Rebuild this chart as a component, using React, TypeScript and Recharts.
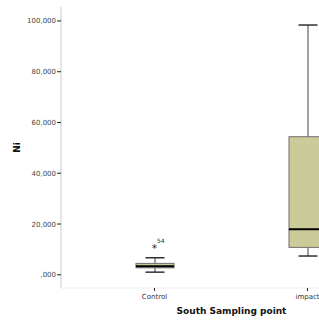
import React from 'react'
import { ComposedChart, Bar, Scatter, XAxis, YAxis, Label } from 'recharts'

const SITES = ['Control', 'impact']
const WHISKER_LOW = [1.05, 7.4]
const Q1 = [2.75, 10.8]
const MEDIAN = [3.4, 17.9]
const Q3 = [4.5, 54.4]
const WHISKER_HIGH = [6.7, 98.4]
const OUTLIERS = [11.3, null]
const OUTLIER_IDS = ['54', '']
const Y_TICKS = [0, 20, 40, 60, 80, 100]

const data = SITES.map((site, i) => ({
  site,
  base: WHISKER_LOW[i],
  lowWhisker: Q1[i] - WHISKER_LOW[i],
  boxLow: MEDIAN[i] - Q1[i],
  boxHigh: Q3[i] - MEDIAN[i],
  highWhisker: WHISKER_HIGH[i] - Q3[i],
  outlier: OUTLIERS[i],
  outlierId: OUTLIER_IDS[i],
}))

const FONT = '"DejaVu Sans", Verdana, sans-serif'
const BOX_FILL = '#cbcb99'
const BOX_EDGE = '#6e6e6e'

function LowWhisker(p: any) {
  const cx = p.x + p.width / 2
  const bottom = p.y + p.height
  return (
    <g>
      <line x1={cx} x2={cx} y1={p.y} y2={bottom} stroke={BOX_EDGE} strokeWidth={1.3} />
      <line x1={cx - p.width / 4} x2={cx + p.width / 4} y1={bottom} y2={bottom} stroke="#111" strokeWidth={1.3} />
    </g>
  )
}

function HighWhisker(p: any) {
  const cx = p.x + p.width / 2
  return (
    <g>
      <line x1={cx} x2={cx} y1={p.y} y2={p.y + p.height} stroke={BOX_EDGE} strokeWidth={1.3} />
      <line x1={cx - p.width / 4} x2={cx + p.width / 4} y1={p.y} y2={p.y} stroke="#111" strokeWidth={1.3} />
    </g>
  )
}

function BoxLow(p: any) {
  return <rect x={p.x} y={p.y} width={p.width} height={p.height} fill={BOX_FILL} stroke={BOX_EDGE} strokeWidth={1} />
}

function BoxHigh(p: any) {
  const bottom = p.y + p.height
  return (
    <g>
      <rect x={p.x} y={p.y} width={p.width} height={p.height} fill={BOX_FILL} stroke={BOX_EDGE} strokeWidth={1} />
      <line x1={p.x} x2={p.x + p.width} y1={bottom} y2={bottom} stroke="#000" strokeWidth={2} />
    </g>
  )
}

function OutlierMark(p: any) {
  if (p.cx == null || p.cy == null || p.payload?.outlier == null) return <g />
  return (
    <g fontFamily={FONT}>
      <text x={p.cx} y={p.cy + 6} textAnchor="middle" fontSize={10} fill="#222">*</text>
      <text x={p.cx + 2.5} y={p.cy - 3} fontSize={6} fill="#333">{p.payload.outlierId}</text>
    </g>
  )
}

const fmtY = (v: number) => (v === 0 ? ',000' : `${v},000`)

export default function App() {
  return (
    <div style={{ position: 'absolute', left: 0, top: 0, width: 319, height: 321, overflow: 'hidden', background: '#fff' }}>
      <ComposedChart
        width={410}
        height={321}
        data={data}
        margin={{ top: 7, right: 8, bottom: 3, left: 0 }}
        barSize={38}
      >
        <XAxis
          dataKey="site"
          padding={{ left: 17, right: 18 }}
          height={30}
          axisLine={{ stroke: '#ececec', strokeWidth: 1 }}
          tickLine={{ stroke: '#222' }}
          tickSize={3}
          tickMargin={3}
          tick={{ fontSize: 7, fill: '#333', fontFamily: FONT }}
        >
          <Label
            value="South Sampling point"
            position="insideBottom"
            offset={4}
            style={{ fontSize: 9, fontWeight: 'bold', fill: '#111', fontFamily: FONT }}
          />
        </XAxis>
        <YAxis
          width={61}
          domain={[-5.2, 105.5]}
          ticks={Y_TICKS}
          tickFormatter={fmtY}
          allowDataOverflow
          axisLine={{ stroke: '#dcdcdc', strokeWidth: 1.5 }}
          tickLine={{ stroke: '#222' }}
          tickSize={4}
          tickMargin={1}
          tick={{ fontSize: 7, fill: '#444', fontFamily: FONT }}
        >
          <Label
            content={(props: any) => {
              const vb = props.viewBox
              const cy = vb.y + vb.height / 2
              return (
                <text
                  x={17}
                  y={cy}
                  transform={`rotate(-90 17 ${cy})`}
                  textAnchor="middle"
                  dominantBaseline="central"
                  fontSize={9}
                  fontWeight="bold"
                  fill="#111"
                  fontFamily={FONT}
                >
                  Ni
                </text>
              )
            }}
          />
        </YAxis>
        <Bar dataKey="base" stackId="b" fill="none" isAnimationActive={false} />
        <Bar dataKey="lowWhisker" stackId="b" shape={LowWhisker} isAnimationActive={false} />
        <Bar dataKey="boxLow" stackId="b" shape={BoxLow} isAnimationActive={false} />
        <Bar dataKey="boxHigh" stackId="b" shape={BoxHigh} isAnimationActive={false} />
        <Bar dataKey="highWhisker" stackId="b" shape={HighWhisker} isAnimationActive={false} />
        <Scatter dataKey="outlier" shape={OutlierMark} isAnimationActive={false} />
      </ComposedChart>
    </div>
  )
}
